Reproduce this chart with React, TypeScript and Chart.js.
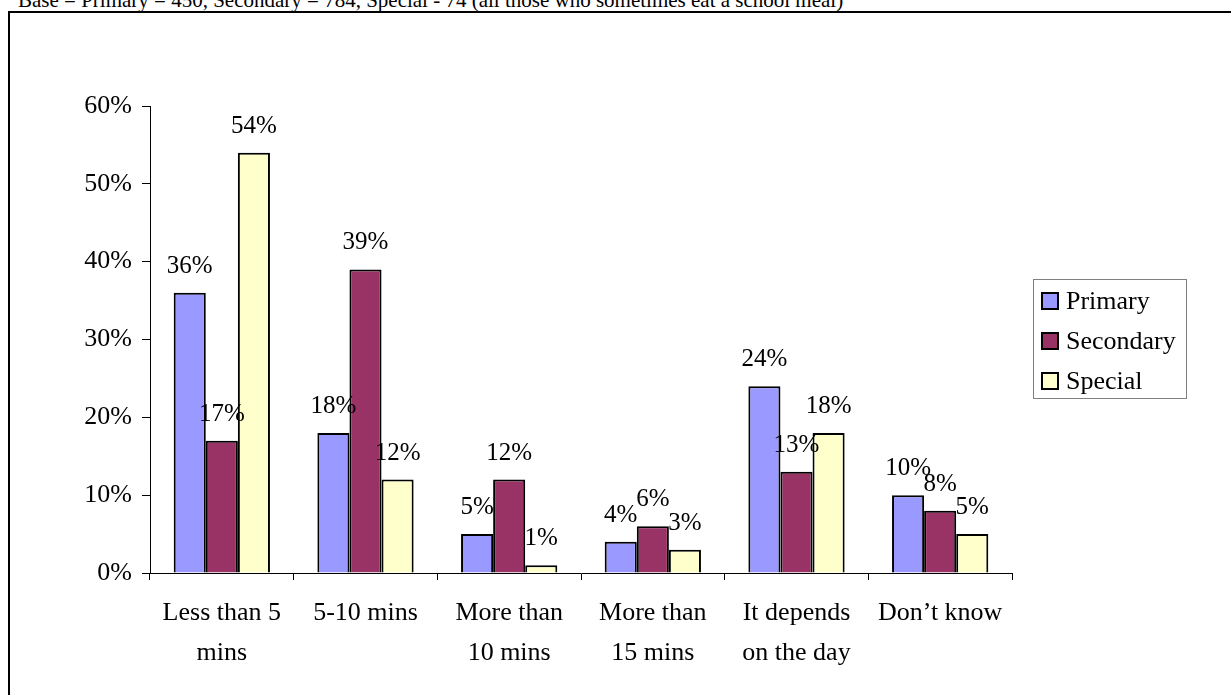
import React, { useEffect, useRef } from "react";
import { Chart, registerables } from "chart.js";

Chart.register(...registerables);

const categories: (string | string[])[] = [
  ["Less than 5", "mins"],
  "5-10 mins",
  ["More than", "10 mins"],
  ["More than", "15 mins"],
  ["It depends", "on the day"],
  "Don\u2019t know",
];
const primaryValues = [36, 18, 5, 4, 24, 10];
const secondaryValues = [17, 39, 12, 6, 13, 8];
const specialValues = [54, 12, 1, 3, 18, 5];
const seriesNames = ["Primary", "Secondary", "Special"];
const seriesColors = ["#9999FF", "#993366", "#FFFFCC"];
const caption =
  "Base = Primary = 450, Secondary = 784, Special - 74 (all those who sometimes eat a school meal)";

const FONT = "'Liberation Serif', 'Times New Roman', serif";

const labelPlugin = {
  id: "valueLabels",
  afterDatasetsDraw(chart: any) {
    const ctx = chart.ctx;
    ctx.save();
    ctx.font = `25px ${FONT}`;
    ctx.fillStyle = "#000";
    ctx.textAlign = "center";
    ctx.textBaseline = "alphabetic";
    chart.data.datasets.forEach((ds: any, di: number) => {
      const meta = chart.getDatasetMeta(di);
      meta.data.forEach((el: any, i: number) => {
        ctx.fillText(ds.data[i] + "%", el.x, el.y - 20);
      });
    });
    ctx.restore();
  },
};

export default function App() {
  const canvasRef = useRef<HTMLCanvasElement>(null);

  useEffect(() => {
    const canvas = canvasRef.current;
    if (!canvas) return;
    const seriesData = [primaryValues, secondaryValues, specialValues];
    const chart = new Chart(canvas, {
      type: "bar",
      data: {
        labels: categories,
        datasets: seriesNames.map((name, i) => ({
          label: name,
          data: seriesData[i],
          backgroundColor: seriesColors[i],
          borderColor: "#000",
          borderWidth: 2,
          categoryPercentage: 0.67,
          barPercentage: 1,
        })),
      },
      options: {
        responsive: false,
        animation: false,
        devicePixelRatio: 1,
        layout: { padding: { top: 106, right: 219, left: 0, bottom: 0 } },
        plugins: {
          legend: { display: false },
          tooltip: { enabled: false },
          title: { display: false },
        },
        scales: {
          x: {
            offset: true,
            grid: {
              offset: true,
              drawOnChartArea: false,
              drawTicks: true,
              tickLength: 7,
              color: "#000",
            },
            border: { display: true, color: "#000", width: 1 },
            ticks: {
              color: "#000",
              padding: 13,
              maxRotation: 0,
              autoSkip: false,
              font: { family: FONT, size: 26, lineHeight: "40px" },
            },
            afterFit(scale: any) {
              scale.height = 122;
            },
          },
          y: {
            min: 0,
            max: 60,
            grid: {
              drawOnChartArea: false,
              drawTicks: true,
              tickLength: 8,
              color: "#000",
            },
            border: { display: true, color: "#000", width: 1 },
            ticks: {
              stepSize: 10,
              color: "#000",
              padding: 10,
              font: { family: FONT, size: 26 },
              callback: (v: any) => v + "%",
            },
            afterFit(scale: any) {
              scale.width = 150;
            },
          },
        },
      },
      plugins: [labelPlugin],
    } as any);
    return () => chart.destroy();
  }, []);

  return (
    <div
      style={{
        position: "fixed",
        left: 0,
        top: 0,
        width: 1231,
        height: 695,
        overflow: "hidden",
        background: "#fff",
        fontFamily: FONT,
      }}
    >
      <div
        style={{
          position: "absolute",
          left: 18,
          top: -10,
          fontSize: 21,
          lineHeight: "21px",
          whiteSpace: "nowrap",
          color: "#000",
        }}
      >
        {caption}
      </div>
      <div
        style={{
          position: "absolute",
          left: 8,
          top: 11,
          width: 1400,
          height: 900,
          border: "2px solid #000",
          boxSizing: "border-box",
        }}
      />
      <canvas
        ref={canvasRef}
        width={1231}
        height={695}
        style={{ position: "absolute", left: 0, top: 0, width: 1231, height: 695 }}
      />
      <div
        style={{
          position: "absolute",
          left: 1033,
          top: 279,
          width: 154,
          height: 120,
          border: "1px solid #808080",
          boxSizing: "border-box",
          background: "#fff",
        }}
      >
        {seriesNames.map((name, i) => (
          <div
            key={name}
            style={{
              position: "absolute",
              left: 0,
              top: 1 + i * 40,
              height: 40,
              width: 152,
              display: "flex",
              alignItems: "center",
            }}
          >
            <div
              style={{
                marginLeft: 7,
                width: 18,
                height: 18,
                boxSizing: "border-box",
                border: "2px solid #000",
                background: seriesColors[i],
              }}
            />
            <span style={{ marginLeft: 7, fontSize: 26, lineHeight: "40px", color: "#000" }}>
              {name}
            </span>
          </div>
        ))}
      </div>
    </div>
  );
}
